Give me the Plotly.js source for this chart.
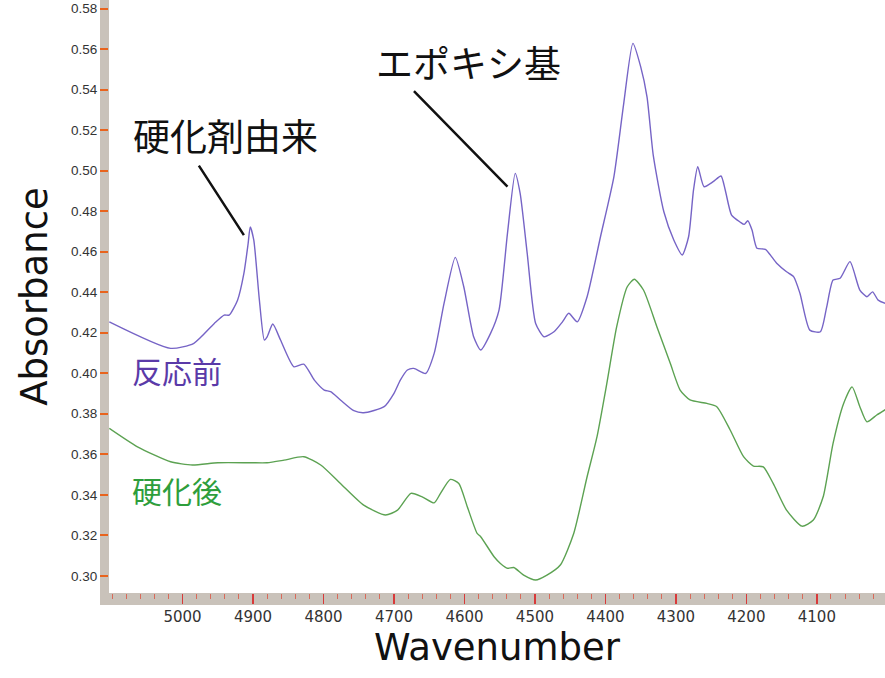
<!DOCTYPE html>
<html>
<head>
<meta charset="utf-8">
<script src="https://cdn.plot.ly/plotly-3.0.1.min.js"></script>
<style>html,body{margin:0;padding:0;background:#fff;}#chart{width:885px;height:678px;}</style>
</head>
<body>
<div id="chart"></div>
<script>
// 反応前 (before reaction) spectrum
const beforeWavenumber = [5104, 5017, 4984, 4955, 4941, 4934, 4922, 4913, 4907, 4904, 4899, 4891, 4884, 4880, 4872, 4861, 4842, 4828, 4813, 4799, 4790, 4776, 4757, 4743, 4714, 4700, 4691, 4681, 4672, 4655, 4643, 4629, 4613, 4601, 4587, 4577, 4563, 4551, 4539, 4528, 4521, 4511, 4499, 4487, 4473, 4461, 4452, 4440, 4426, 4407, 4388, 4374, 4361, 4350, 4341, 4332, 4317, 4303, 4291, 4282, 4275, 4269, 4260, 4247, 4236, 4230, 4221, 4209, 4203, 4198, 4192, 4185, 4173, 4157, 4143, 4133, 4124, 4110, 4095, 4086, 4077, 4067, 4053, 4039, 4029, 4021, 4013, 4003];
const beforeAbsorbance = [0.4254, 0.4123, 0.4148, 0.4246, 0.4287, 0.4287, 0.4361, 0.4493, 0.4640, 0.4723, 0.4658, 0.4361, 0.4164, 0.4180, 0.4243, 0.4164, 0.4032, 0.4045, 0.3966, 0.3917, 0.3909, 0.3868, 0.3815, 0.3805, 0.3835, 0.3901, 0.3966, 0.4016, 0.4024, 0.3999, 0.4098, 0.4345, 0.4572, 0.4427, 0.4180, 0.4115, 0.4197, 0.4312, 0.4691, 0.4987, 0.4888, 0.4592, 0.4246, 0.4180, 0.4205, 0.4254, 0.4296, 0.4254, 0.4378, 0.4674, 0.4970, 0.5333, 0.5629, 0.5514, 0.5365, 0.5073, 0.4796, 0.4658, 0.4584, 0.4674, 0.4905, 0.5020, 0.4921, 0.4946, 0.4974, 0.4905, 0.4781, 0.4747, 0.4735, 0.4753, 0.4707, 0.4617, 0.4612, 0.4543, 0.4501, 0.4477, 0.4395, 0.4213, 0.4205, 0.4328, 0.4460, 0.4469, 0.4551, 0.4411, 0.4378, 0.4402, 0.4361, 0.4345];

// 硬化後 (after curing) spectrum
const afterWavenumber = [5104, 5064, 5017, 4986, 4950, 4903, 4880, 4856, 4828, 4804, 4776, 4743, 4712, 4695, 4676, 4660, 4643, 4634, 4620, 4608, 4596, 4582, 4577, 4558, 4549, 4539, 4530, 4516, 4499, 4483, 4464, 4445, 4426, 4412, 4398, 4384, 4369, 4359, 4346, 4327, 4308, 4294, 4280, 4256, 4242, 4223, 4204, 4190, 4176, 4162, 4143, 4121, 4105, 4091, 4077, 4062, 4050, 4039, 4029, 4015, 4003];
const afterAbsorbance = [0.3728, 0.3637, 0.3563, 0.3547, 0.3558, 0.3558, 0.3558, 0.3571, 0.3588, 0.3547, 0.3456, 0.3349, 0.3300, 0.3324, 0.3407, 0.3390, 0.3360, 0.3407, 0.3476, 0.3456, 0.3341, 0.3209, 0.3193, 0.3094, 0.3061, 0.3037, 0.3041, 0.3003, 0.2979, 0.3003, 0.3053, 0.3209, 0.3489, 0.3686, 0.3950, 0.4230, 0.4427, 0.4464, 0.4411, 0.4230, 0.4049, 0.3917, 0.3868, 0.3851, 0.3835, 0.3720, 0.3588, 0.3542, 0.3538, 0.3456, 0.3324, 0.3245, 0.3275, 0.3390, 0.3654, 0.3851, 0.3933, 0.3835, 0.3760, 0.3794, 0.3820];

const xTickVals = [5000, 4900, 4800, 4700, 4600, 4500, 4400, 4300, 4200, 4100];
const xTickText = ["5000", "4900", "4800", "4700", "4600", "4500", "4400", "4300", "4200", "4100"];
const yTickVals = [0.30, 0.32, 0.34, 0.36, 0.38, 0.40, 0.42, 0.44, 0.46, 0.48, 0.50, 0.52, 0.54, 0.56, 0.58];
const yTickText = ["0.30", "0.32", "0.34", "0.36", "0.38", "0.40", "0.42", "0.44", "0.46", "0.48", "0.50", "0.52", "0.54", "0.56", "0.58"];

const seriesNames = ["反応前", "硬化後"];
const peakLabels = ["硬化剤由来", "エポキシ基"];
const xTitle = "Wavenumber";
const yTitle = "Absorbance";

const purple = "#7664c6";
const green = "#5ca252";
const cjk = "'Noto Sans CJK JP', sans-serif";

const traces = [
  {x: beforeWavenumber, y: beforeAbsorbance, name: seriesNames[0], mode: "lines",
   line: {color: purple, width: 1.4, shape: "spline", smoothing: 0.6}},
  {x: afterWavenumber, y: afterAbsorbance, name: seriesNames[1], mode: "lines",
   line: {color: green, width: 1.4, shape: "spline", smoothing: 0.6}}
];

const layout = {
  width: 885, height: 678,
  margin: {l: 109, r: 0, t: 0, b: 85},
  paper_bgcolor: "#ffffff", plot_bgcolor: "#ffffff",
  showlegend: false,
  font: {family: "'Liberation Sans', Arial, sans-serif", color: "#333"},
  xaxis: {
    range: [5104.4, 4003.3],
    tickmode: "array", tickvals: xTickVals, ticktext: xTickText,
    ticks: "outside", ticklen: 10, tickwidth: 1.5, tickcolor: "#d83a3a",
    minor: {dtick: 20, tick0: 0, ticks: "outside", ticklen: 5, tickwidth: 1, tickcolor: "#d86a5a"},
    showgrid: false, zeroline: false, showline: false,
    tickfont: {family: "'DejaVu Sans', sans-serif", size: 15, color: "#333"},
    title: {text: xTitle, font: {family: "'DejaVu Sans', sans-serif", size: 37, color: "#111"}, standoff: 6}
  },
  yaxis: {
    range: [0.2915, 0.5843],
    tickmode: "array", tickvals: yTickVals, ticktext: yTickText,
    ticks: "outside", ticklen: 8, tickwidth: 2, tickcolor: "#e8641e",
    showgrid: false, zeroline: false, showline: false,
    tickfont: {family: "'Liberation Sans', Arial, sans-serif", size: 13.5, color: "#333"},
    title: {text: yTitle, font: {family: "'DejaVu Sans', sans-serif", size: 37, color: "#111"}, standoff: 12}
  },
  shapes: [
    {type: "rect", xref: "paper", yref: "paper", layer: "below",
     x0: -9/776, x1: 0, y0: -12/593, y1: 1.01, fillcolor: "#c9c2ba", line: {width: 0}},
    {type: "rect", xref: "paper", yref: "paper", layer: "below",
     x0: -9/776, x1: 1.01, y0: -12/593, y1: 0, fillcolor: "#c9c2ba", line: {width: 0}}
  ],
  annotations: [
    {x: 4913, y: 0.4682, xref: "x", yref: "y", text: "", showarrow: true, arrowhead: 0,
     arrowwidth: 2.5, arrowcolor: "#111", ax: -46, ay: -71},
    {x: 4539, y: 0.4921, xref: "x", yref: "y", text: "", showarrow: true, arrowhead: 0,
     arrowwidth: 2.5, arrowcolor: "#111", ax: -95, ay: -97},
    {x: 4939, y: 0.5176, xref: "x", yref: "y", text: peakLabels[0], showarrow: false,
     font: {family: cjk, size: 37, color: "#111"}},
    {x: 4595, y: 0.5537, xref: "x", yref: "y", text: peakLabels[1], showarrow: false,
     font: {family: cjk, size: 37, color: "#111"}},
    {x: 5008, y: 0.4016, xref: "x", yref: "y", text: seriesNames[0], showarrow: false,
     font: {family: cjk, size: 30, color: "#5a3aa8"}},
    {x: 5008, y: 0.3423, xref: "x", yref: "y", text: seriesNames[1], showarrow: false,
     font: {family: cjk, size: 30, color: "#2e9e3c"}}
  ]
};

Plotly.newPlot("chart", traces, layout, {displayModeBar: false, staticPlot: true});
</script>
</body>
</html>
